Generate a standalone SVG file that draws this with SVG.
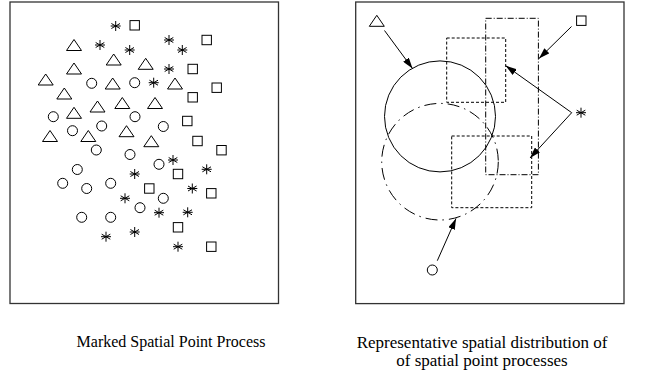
<svg xmlns="http://www.w3.org/2000/svg" width="657" height="379" viewBox="0 0 657 379">
<style>
.frame{fill:none;stroke:#333;stroke-width:1.3}
.sym{fill:none;stroke:#000;stroke-width:1}
.cap{font-family:"Liberation Serif","Times New Roman",serif;fill:#000;text-anchor:middle}
.ln{fill:none;stroke:#000;stroke-width:1}
.dash{fill:none;stroke:#000;stroke-width:1;stroke-dasharray:3 2}
.dd{fill:none;stroke:#000;stroke-width:1;stroke-dasharray:6 2 1 2}
.ddc{fill:none;stroke:#000;stroke-width:1;stroke-dasharray:12 5 1.5 5}
</style>
<defs>
<polygon id="tri" class="sym" points="0,-6 7.5,5 -7.5,5"/>
<circle id="cir" class="sym" r="5"/>
<rect id="sqr" class="sym" x="-4.7" y="-4.7" width="9.4" height="9.4"/>
<g id="ast" class="sym"><line x1="0" y1="-5" x2="0" y2="5"/><line x1="-4.3" y1="-2.5" x2="4.3" y2="2.5"/><line x1="-4.3" y1="2.5" x2="4.3" y2="-2.5"/><line x1="-5" y1="0" x2="5" y2="0"/></g>
<marker id="ah" markerUnits="userSpaceOnUse" markerWidth="11" markerHeight="7" refX="11" refY="3.5" orient="auto"><path d="M0,0 L11,3.5 L0,7 z" fill="#000"/></marker>
</defs>

<g id="left-panel">
<rect class="frame" x="10" y="2" width="268.5" height="301.5"/>
<g id="left-triangles">
<use href="#tri" x="74" y="45.5"/><use href="#tri" x="113.7" y="60"/><use href="#tri" x="74" y="69"/><use href="#tri" x="145.7" y="64.3"/>
<use href="#tri" x="45.7" y="80"/><use href="#tri" x="112.7" y="84"/><use href="#tri" x="175" y="84"/><use href="#tri" x="64.3" y="94"/>
<use href="#tri" x="97.5" y="107"/><use href="#tri" x="122.3" y="103.5"/><use href="#tri" x="155" y="103.5"/><use href="#tri" x="74" y="113.3"/>
<use href="#tri" x="50" y="136.5"/><use href="#tri" x="88.3" y="136.5"/><use href="#tri" x="126.5" y="131.7"/><use href="#tri" x="151.3" y="141.7"/>
</g>
<g id="left-circles">
<use href="#cir" x="91.7" y="83.3"/><use href="#cir" x="134.7" y="82.7"/><use href="#cir" x="53.3" y="116.7"/><use href="#cir" x="135" y="116.7"/>
<use href="#cir" x="72.5" y="130.7"/><use href="#cir" x="101.7" y="126"/><use href="#cir" x="163.3" y="126.5"/><use href="#cir" x="96.3" y="150"/>
<use href="#cir" x="130" y="154.5"/><use href="#cir" x="159" y="164.3"/><use href="#cir" x="77.3" y="169.5"/><use href="#cir" x="62.7" y="183.3"/>
<use href="#cir" x="86.7" y="188.5"/><use href="#cir" x="110.7" y="183.3"/><use href="#cir" x="163.3" y="198.3"/><use href="#cir" x="140" y="207.7"/>
<use href="#cir" x="81.7" y="217.3"/><use href="#cir" x="110.7" y="217.3"/>
</g>
<g id="left-squares">
<use href="#sqr" x="134.7" y="25.3"/><use href="#sqr" x="206.7" y="40"/><use href="#sqr" x="192.7" y="69"/><use href="#sqr" x="216.7" y="87.7"/>
<use href="#sqr" x="192.7" y="97.3"/><use href="#sqr" x="187.3" y="121"/><use href="#sqr" x="197.5" y="141"/><use href="#sqr" x="221.5" y="150.2"/>
<use href="#sqr" x="178" y="174"/><use href="#sqr" x="149.3" y="188.5"/><use href="#sqr" x="211.3" y="193.3"/><use href="#sqr" x="178" y="227.3"/>
<use href="#sqr" x="211.3" y="246.7"/>
</g>
<g id="left-asterisks">
<use href="#ast" x="115.7" y="26"/><use href="#ast" x="100" y="45"/><use href="#ast" x="129.7" y="50"/><use href="#ast" x="169" y="40"/>
<use href="#ast" x="182.3" y="50"/><use href="#ast" x="169" y="69"/><use href="#ast" x="153.7" y="82.7"/><use href="#ast" x="173" y="160"/>
<use href="#ast" x="134.7" y="174"/><use href="#ast" x="206.7" y="169.3"/><use href="#ast" x="192.3" y="188.5"/><use href="#ast" x="125" y="198.3"/>
<use href="#ast" x="159" y="212.7"/><use href="#ast" x="187.7" y="212.3"/><use href="#ast" x="134.7" y="232"/><use href="#ast" x="106" y="236.7"/>
<use href="#ast" x="178" y="246.7"/>
</g>
</g>

<g id="right-panel">
<rect class="frame" x="355.7" y="2" width="268.3" height="301.6"/>
<g id="region-triangle"><circle class="ln" cx="440" cy="116.4" r="55.5"/></g>
<g id="region-circle"><circle class="ddc" cx="440" cy="161.7" r="58.3"/></g>
<g id="region-asterisk-1"><rect class="dash" x="446.7" y="38" width="59" height="64.3"/></g>
<g id="region-square"><rect class="dd" x="485.7" y="18.3" width="52.7" height="156.4"/></g>
<g id="region-asterisk-2"><rect class="dash" x="451.7" y="136" width="80" height="71.7"/></g>
<g id="mark-triangle"><use href="#tri" x="376.8" y="21.3"/></g>
<g id="mark-square"><use href="#sqr" x="581.3" y="20.7"/></g>
<g id="mark-asterisk"><use href="#ast" x="581" y="112.7"/></g>
<g id="mark-circle"><use href="#cir" x="432.3" y="270"/></g>
</g>

<g id="connectors">
<line class="ln" x1="384.5" y1="30.5" x2="412.5" y2="68.5" marker-end="url(#ah)"/>
<line class="ln" x1="571.5" y1="26.5" x2="539" y2="58.5" marker-end="url(#ah)"/>
<line class="ln" x1="571.7" y1="112.7" x2="505.7" y2="65.7" marker-end="url(#ah)"/>
<line class="ln" x1="571.7" y1="112.7" x2="530" y2="158" marker-end="url(#ah)"/>
<line class="ln" x1="437.3" y1="260.7" x2="456" y2="218.5" marker-end="url(#ah)"/>
</g>

<g id="captions">
<text class="cap" x="171" y="347" font-size="16">Marked Spatial Point Process</text>
<text class="cap" x="482" y="348" font-size="17">Representative spatial distribution of</text>
<text class="cap" x="482" y="366" font-size="17">of spatial point processes</text>
</g>
</svg>
